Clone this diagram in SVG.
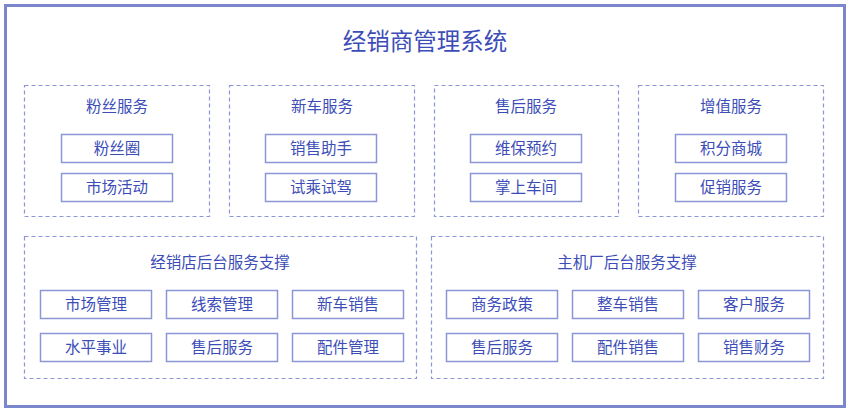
<svg xmlns="http://www.w3.org/2000/svg" width="850" height="412" viewBox="0 0 850 412">
<style>
text{font-family:"Noto Sans CJK SC","Noto Sans",sans-serif;fill:#3c4db8;text-anchor:middle;dominant-baseline:central}
.title{font-size:23.5px}
.gt{font-size:15.5px}
.it{font-size:15.5px}
.grp{fill:none;stroke:#8c96d6;stroke-width:1.2;stroke-dasharray:4 3}
.box{fill:#fff;stroke:#8c96d6;stroke-width:1.5}
</style>
<rect width="850" height="412" fill="#fff"/>
<rect x="5.5" y="5.5" width="839" height="401" fill="none" stroke="#7b86cc" stroke-width="3"/>
<text class="title" x="425" y="40">经销商管理系统</text>
<g id="fans">
<rect class="grp" x="24.5" y="85.5" width="185" height="131"/>
<text class="gt" x="117" y="105">粉丝服务</text>
<rect class="box" x="61.5" y="134.5" width="111" height="28"/>
<text class="it" x="117" y="146.5">粉丝圈</text>
<rect class="box" x="61.5" y="173.5" width="111" height="28"/>
<text class="it" x="117" y="185.5">市场活动</text>
</g>
<g id="newcar">
<rect class="grp" x="229.5" y="85.5" width="185" height="131"/>
<text class="gt" x="322" y="105">新车服务</text>
<rect class="box" x="265.5" y="134.5" width="111" height="28"/>
<text class="it" x="321" y="146.5">销售助手</text>
<rect class="box" x="265.5" y="173.5" width="111" height="28"/>
<text class="it" x="321" y="185.5">试乘试驾</text>
</g>
<g id="after">
<rect class="grp" x="434.5" y="85.5" width="184" height="131"/>
<text class="gt" x="526" y="105">售后服务</text>
<rect class="box" x="470.5" y="134.5" width="111" height="28"/>
<text class="it" x="526" y="146.5">维保预约</text>
<rect class="box" x="470.5" y="173.5" width="111" height="28"/>
<text class="it" x="526" y="185.5">掌上车间</text>
</g>
<g id="value">
<rect class="grp" x="638.5" y="85.5" width="185" height="131"/>
<text class="gt" x="731" y="105">增值服务</text>
<rect class="box" x="675.5" y="134.5" width="111" height="28"/>
<text class="it" x="731" y="146.5">积分商城</text>
<rect class="box" x="675.5" y="173.5" width="111" height="28"/>
<text class="it" x="731" y="185.5">促销服务</text>
</g>
<g id="dealer">
<rect class="grp" x="24.5" y="236.5" width="392" height="142"/>
<text class="gt" x="220" y="261">经销店后台服务支撑</text>
<rect class="box" x="40.5" y="290.5" width="111" height="28"/>
<text class="it" x="96" y="302.5">市场管理</text>
<rect class="box" x="166.5" y="290.5" width="111" height="28"/>
<text class="it" x="222" y="302.5">线索管理</text>
<rect class="box" x="292.5" y="290.5" width="111" height="28"/>
<text class="it" x="348" y="302.5">新车销售</text>
<rect class="box" x="40.5" y="333.5" width="111" height="28"/>
<text class="it" x="96" y="345.5">水平事业</text>
<rect class="box" x="166.5" y="333.5" width="111" height="28"/>
<text class="it" x="222" y="345.5">售后服务</text>
<rect class="box" x="292.5" y="333.5" width="111" height="28"/>
<text class="it" x="348" y="345.5">配件管理</text>
</g>
<g id="oem">
<rect class="grp" x="431.5" y="236.5" width="392" height="142"/>
<text class="gt" x="627" y="261">主机厂后台服务支撑</text>
<rect class="box" x="446.5" y="290.5" width="111" height="28"/>
<text class="it" x="502" y="302.5">商务政策</text>
<rect class="box" x="572.5" y="290.5" width="111" height="28"/>
<text class="it" x="628" y="302.5">整车销售</text>
<rect class="box" x="698.5" y="290.5" width="111" height="28"/>
<text class="it" x="754" y="302.5">客户服务</text>
<rect class="box" x="446.5" y="333.5" width="111" height="28"/>
<text class="it" x="502" y="345.5">售后服务</text>
<rect class="box" x="572.5" y="333.5" width="111" height="28"/>
<text class="it" x="628" y="345.5">配件销售</text>
<rect class="box" x="698.5" y="333.5" width="111" height="28"/>
<text class="it" x="754" y="345.5">销售财务</text>
</g>
<g id="connectors"></g>
</svg>
